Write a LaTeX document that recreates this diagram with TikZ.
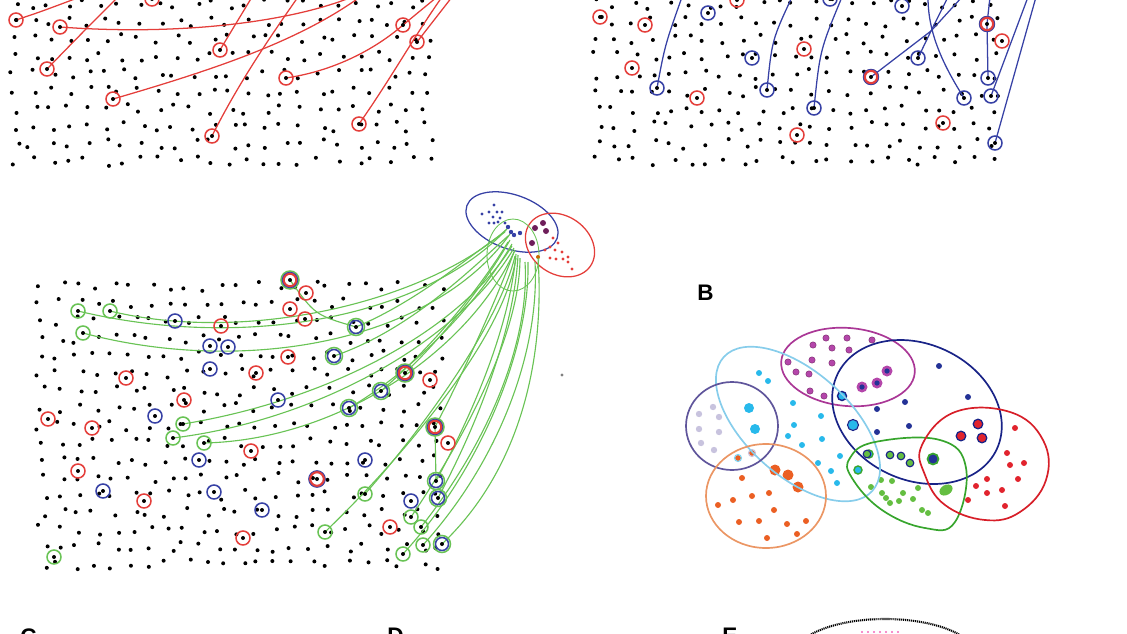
\documentclass[tikz,border=0pt]{standalone}
\usepackage{fontspec}
\setmainfont{Liberation Sans}

% track colours
\definecolor{cellred}{RGB}{228,62,58}
\definecolor{cellblue}{RGB}{55,65,165}
\definecolor{cellgreen}{RGB}{105,195,85}
% group colours (panel B)
\definecolor{grpmagenta}{RGB}{170,55,150}
\definecolor{grpnavy}{RGB}{25,35,135}
\definecolor{grpsky}{RGB}{135,205,235}
\definecolor{grpslate}{RGB}{95,85,155}
\definecolor{grporange}{RGB}{235,150,100}
\definecolor{grpgreen}{RGB}{55,165,45}
\definecolor{grpred}{RGB}{215,30,40}
\definecolor{dotmagenta}{RGB}{180,70,170}
\definecolor{dotnavy}{RGB}{35,50,150}
\definecolor{dotcyan}{RGB}{40,185,235}
\definecolor{dotlav}{RGB}{200,195,222}
\definecolor{dotorange}{RGB}{235,95,35}
\definecolor{dotgreen}{RGB}{100,190,65}
\definecolor{dotred}{RGB}{225,35,45}
\definecolor{dotplum}{RGB}{110,30,90}

\begin{document}
\begin{tikzpicture}[
    x=0.025cm, y=-0.025cm,
    % scatter dots
    dot/.style={fill=black},
    % rings round a marked cell
    redring/.style={draw=cellred, line width=1.1pt},
    bluering/.style={draw=cellblue, line width=1.1pt},
    greenring/.style={draw=cellgreen, line width=1.1pt},
    % tracks
    redtrack/.style={draw=cellred, line width=0.9pt},
    bluetrack/.style={draw=cellblue, line width=0.9pt},
    greentrack/.style={draw=cellgreen, line width=0.8pt},
    % group outlines
    group/.style={line width=1.2pt},
    label/.style={font=\fontsize{16}{16}\selectfont\bfseries, inner sep=0pt}
    ]

    \useasboundingbox (0,0) rectangle (1127,633);
    \clip (0,0) rectangle (1127,633);
    \pgfmathsetseed{11}

    % ---------- top left field ----------
    \foreach \i in {0,...,23} \foreach \j in {0,...,9} {
        \pgfmathsetmacro\px{14+18*\i+6*rand}
        \pgfmathsetmacro\py{4+17.5*\j+5*rand}
        \fill[dot] (\px,\py) circle (2);
    }
    \draw[redtrack] (16,20) .. controls (40,12) .. (80,-3);
    \draw[redtrack] (60,27) .. controls (180,36) and (290,22) .. (352,-3);
    \draw[redtrack] (47,69) .. controls (80,35) .. (118,-3);
    \draw[redtrack] (220,50) .. controls (232,30) .. (252,-3);
    \draw[redtrack] (113,99) .. controls (220,68) and (300,40) .. (360,-3);
    \draw[redtrack] (286,78) .. controls (340,70) and (380,45) .. (403,25) -- (437,-3);
    \draw[redtrack] (212,136) .. controls (240,80) and (275,30) .. (298,-3);
    \draw[redtrack] (359,124) .. controls (390,80) and (415,35) .. (442,-3);
    \draw[redtrack] (417,42) -- (452,-3);
    \foreach \x/\y in {16/20, 60/27, 47/69, 220/50, 113/99, 286/78, 212/136,
                       359/124, 403/25, 417/42, 152/-1} {
        \draw[redring] (\x,\y) circle (7);
        \fill[dot] (\x,\y) circle (2);
    }

    % ---------- top right field ----------
    \foreach \i in {0,...,22} \foreach \j in {0,...,9} {
        \pgfmathsetmacro\px{598+18*\i+6*rand}
        \pgfmathsetmacro\py{4+17.5*\j+5*rand}
        \fill[dot] (\px,\py) circle (2);
    }
    \draw[bluetrack] (657,88) .. controls (665,45) .. (682,-3);
    \draw[bluetrack] (767,90) .. controls (772,40) .. (792,-3);
    \draw[bluetrack] (814,108) .. controls (820,50) .. (842,-3);
    \draw[bluetrack] (871,77) -- (931,31) -- (962,-3);
    \draw[bluetrack] (918,58) -- (931,31) -- (948,-3);
    \draw[bluetrack] (964,98) .. controls (940,60) and (928,30) .. (928,-3);
    \draw[bluetrack] (988,78) -- (987,24) -- (990,-3);
    \draw[bluetrack] (991,96) -- (1028,-3);
    \draw[bluetrack] (995,143) -- (1036,-3);
    \foreach \x/\y in {600/17, 645/25, 632/68, 697/98, 737/0, 804/49, 797/135,
                       943/123, 1002/41} {
        \draw[redring] (\x,\y) circle (7);
        \fill[dot] (\x,\y) circle (2);
    }
    \foreach \x/\y in {708/13, 657/88, 752/58, 767/90, 814/108, 830/-1, 902/6,
                       918/58, 964/98, 988/78, 991/96, 995/143} {
        \draw[bluering] (\x,\y) circle (7);
        \fill[dot] (\x,\y) circle (2);
    }
    \foreach \x/\y in {871/77, 987/24} {
        \draw[draw=cellred, line width=2pt] (\x,\y) circle (6.5);
        \draw[bluering, line width=0.6pt] (\x,\y) circle (7.8);
        \fill[dot] (\x,\y) circle (2);
    }

    % ---------- middle field ----------
    \foreach \i in {0,...,22} \foreach \j in {0,...,16} {
        \pgfmathsetmacro\px{42+18*\i+6*rand}
        \pgfmathsetmacro\py{286+17.4*\j+5*rand}
        \fill[dot] (\px,\py) circle (2);
    }
    \fill[gray] (562,375) circle (1.6);

    % target clusters
    \draw[bluering, line width=0.9pt, rotate around={-20:(512,222)}] (512,222) ellipse (48 and 27);
    \draw[redring, line width=0.9pt, rotate around={-35:(560,245)}] (560,245) ellipse (37 and 29);
    \draw[greentrack, line width=0.6pt] (513,255) ellipse (26 and 36);
    \foreach \x/\y in {494/205, 489/212, 482/214, 497/212, 502/212, 493/217, 500/218,
                       489/223, 494/223, 498/222, 505/223} {
        \fill[cellblue] (\x,\y) circle (1.7);
    }
    \foreach \x/\y in {543/223, 546/231, 535/228, 532/243} {
        \fill[dotplum] (\x,\y) circle (3);
    }
    \foreach \x/\y in {553/238, 558/243, 550/247, 555/250, 562/252, 545/250, 550/258,
                       556/259, 563/259, 568/257, 568/262, 572/269} {
        \fill[cellred] (\x,\y) circle (1.7);
    }
    \fill[orange!80!black] (538,257) circle (2);

    % green tracks into the clusters
    \draw[greentrack] (78,311) .. controls (240,350) and (420,320) .. (506,230);
    \draw[greentrack] (110,311) .. controls (250,345) and (430,300) .. (508,228);
    \draw[greentrack] (83,333) .. controls (240,375) and (430,345) .. (510,234);
    \draw[greentrack] (290,280) .. controls (315,315) .. (356,327);
    \draw[greentrack] (356,327) .. controls (420,300) and (470,255) .. (505,232);
    \draw[greentrack] (334,356) .. controls (410,330) and (470,270) .. (508,236);
    \draw[greentrack] (405,373) .. controls (450,330) and (490,275) .. (510,240);
    \draw[greentrack] (381,391) .. controls (440,340) and (485,280) .. (508,242);
    \draw[greentrack] (349,408) .. controls (430,360) and (485,290) .. (512,244);
    \draw[greentrack] (183,424) .. controls (330,400) and (460,330) .. (512,246);
    \draw[greentrack] (173,438) .. controls (320,420) and (460,340) .. (514,248);
    \draw[greentrack] (204,443) .. controls (340,440) and (470,350) .. (515,250);
    \draw[greentrack] (435,427) .. controls (470,360) and (500,290) .. (514,252);
    \draw[greentrack] (436,481) -- (435,427);
    \draw[greentrack] (436,481) .. controls (480,400) and (510,320) .. (516,254);
    \draw[greentrack] (438,498) .. controls (485,410) and (515,320) .. (518,255);
    \draw[greentrack] (365,494) .. controls (430,420) and (500,320) .. (515,256);
    \draw[greentrack] (325,532) .. controls (420,440) and (505,330) .. (516,258);
    \draw[greentrack] (411,517) .. controls (470,430) and (520,330) .. (520,258);
    \draw[greentrack] (421,527) .. controls (490,440) and (530,340) .. (525,262);
    \draw[greentrack] (423,545) .. controls (500,460) and (540,350) .. (535,262);
    \draw[greentrack] (442,544) .. controls (520,470) and (545,360) .. (538,258);
    \draw[greentrack] (403,554) .. controls (480,470) and (530,350) .. (528,262);
    \foreach \x/\y in {508/227, 511/232, 514/235, 520/233} {
        \fill[cellblue] (\x,\y) circle (2.2);
    }

    % marked cells
    \foreach \x/\y in {78/311, 110/311, 83/333, 183/424, 173/438, 204/443, 365/494,
                       411/517, 421/527, 325/532, 423/545, 403/554, 54/557} {
        \draw[greenring] (\x,\y) circle (7);
        \fill[dot] (\x,\y) circle (2);
    }
    \foreach \x/\y in {306/293, 290/309, 305/319, 221/326, 288/357, 256/373, 126/378,
                       430/380, 184/400, 48/419, 92/428, 448/443, 251/451, 78/471,
                       144/501, 390/527, 243/538} {
        \draw[redring] (\x,\y) circle (7);
        \fill[dot] (\x,\y) circle (2);
    }
    \foreach \x/\y in {175/321, 210/346, 228/347, 210/369, 278/400, 155/416, 199/460,
                       365/460, 103/491, 214/492, 262/510, 411/501} {
        \draw[bluering] (\x,\y) circle (7);
        \fill[dot] (\x,\y) circle (2);
    }
    \foreach \x/\y in {356/327, 334/356, 381/391, 349/408, 436/481, 438/498, 442/544} {
        \draw[greenring] (\x,\y) circle (8.5);
        \draw[bluering] (\x,\y) circle (6.5);
        \fill[dot] (\x,\y) circle (2);
    }
    \foreach \x/\y in {290/280, 405/373, 435/427} {
        \draw[greenring] (\x,\y) circle (9);
        \draw[draw=cellred, line width=1.8pt] (\x,\y) circle (6.5);
        \draw[bluering, line width=0.6pt] (\x,\y) circle (7.8);
        \fill[dot] (\x,\y) circle (2);
    }
    \draw[draw=cellred, line width=1.8pt] (317,479) circle (7);
    \draw[bluering, line width=0.6pt] (317,479) circle (8.4);
    \fill[dot] (317,479) circle (2);

    % ---------- panel B ----------
    \node[label, anchor=north west] (labB) at (697,285) {B};

    \foreach \x/\y in {813/345, 826/338, 847/338, 872/340, 832/348, 849/350, 812/360,
                       832/363, 788/362, 796/372, 809/374, 810/391, 824/396} {
        \fill[dotmagenta, draw=grpmagenta!70!black, line width=0.3pt] (\x,\y) circle (3.2);
    }
    \foreach \x/\y in {862/387, 877/383, 887/371} {
        \fill[dotmagenta] (\x,\y) circle (5.5);
        \fill[dotnavy] (\x,\y) circle (2.6);
    }
    \fill[dotcyan] (842,396) circle (4.5);
    \draw[grpnavy, line width=1pt] (842,396) circle (4.5);
    \foreach \x/\y in {939/366, 968/397, 905/402, 877/409, 909/426, 877/432} {
        \fill[dotnavy] (\x,\y) circle (3);
    }
    \foreach \x/\y in {978/424, 961/436, 982/438} {
        \fill[dotred] (\x,\y) circle (4.8);
        \draw[grpnavy, line width=0.9pt] (\x,\y) circle (4.8);
    }
    \foreach \x/\y in {759/373, 768/381, 793/403, 821/416, 794/425, 788/436, 822/439,
                       802/445, 840/456, 818/463, 831/471, 837/483} {
        \fill[dotcyan] (\x,\y) circle (3);
    }
    \foreach \x/\y in {749/408, 755/429, 853/425} {
        \fill[dotcyan] (\x,\y) circle (5);
    }
    \draw[grpnavy, line width=0.8pt] (853,425) circle (5.5);
    \foreach \x/\y in {869/454, 858/470} {
        \fill[dotcyan] (\x,\y) circle (4);
        \draw[grpgreen, line width=1pt] (\x,\y) circle (4);
    }
    \foreach \x/\y in {699/414, 713/407, 719/417, 699/429, 719/432, 701/443, 714/450} {
        \fill[dotlav] (\x,\y) circle (3.2);
    }
    \foreach \x/\y in {742/478, 733/500, 752/496, 769/493, 718/505, 774/510, 739/522,
                       759/521, 787/524, 806/521, 797/534, 767/538} {
        \fill[dotorange] (\x,\y) circle (3);
    }
    \fill[dotorange] (738,458) circle (3);
    \draw[dotcyan!60, line width=0.8pt] (738,458) circle (3.5);
    \fill[dotorange] (752,453) circle (3);
    \draw[dotlav, line width=0.8pt] (752,453) circle (3.5);
    \foreach \x/\y in {775/470, 788/475, 798/487} {
        \fill[dotorange] (\x,\y) circle (5.5);
    }
    \foreach \x/\y in {890/455, 901/456, 910/463, 867/454} {
        \fill[dotgreen] (\x,\y) circle (3.8);
        \draw[grpnavy, line width=0.8pt] (\x,\y) circle (3.8);
    }
    \fill[dotnavy] (933,459) circle (5);
    \draw[grpgreen, line width=1.2pt] (933,459) circle (5.5);
    \foreach \x/\y in {871/487, 881/480, 892/481, 882/493, 886/498, 890/503, 899/501,
                       903/493, 918/488, 913/499, 922/510, 928/513} {
        \fill[dotgreen] (\x,\y) circle (3);
    }
    \fill[dotgreen, rotate around={30:(946,490)}] (946,490) ellipse (7 and 5);
    \foreach \x/\y in {1015/428, 1007/453, 1010/465, 1024/463, 1018/479, 987/479,
                       976/486, 987/493, 1002/490, 968/500, 1005/506} {
        \fill[dotred] (\x,\y) circle (3);
    }

    % group outlines
    \draw[group, grpmagenta, rotate around={-5:(848,367)}] (848,367) ellipse (67 and 39);
    \draw[group, grpnavy, rotate around={-25:(917,412)}] (917,412) ellipse (88 and 68);
    \draw[group, grpsky, rotate around={-42:(798,424)}] (798,424) ellipse (100 and 52);
    \draw[group, grpslate] (732,426) ellipse (46 and 44);
    \draw[group, grporange] (766,496) ellipse (60 and 52);
    \draw[group, grpgreen] plot[smooth cycle, tension=0.7] coordinates
        {(850,458) (875,442) (940,440) (966,468) (955,522) (925,528) (882,510) (852,478)};
    \draw[group, grpred] plot[smooth cycle, tension=0.7] coordinates
        {(922,445) (955,412) (1010,412) (1043,440) (1046,480) (1020,512) (985,520) (945,505) (925,475)};

    % ---------- next row, cut off ----------
    \node[label, anchor=north west] (labC) at (20,628) {C};
    \node[label, anchor=north west] (labD) at (387,628) {D};
    \node[label, anchor=north west] (labE) at (722,628) {E};
    \draw[line width=1.5pt, dash pattern=on 0.8pt off 0.6pt] (885,655) ellipse (90 and 36);
    \foreach \x in {862,868,874,880,886,892,898} {
        \fill[magenta!60] (\x,632) circle (1.2);
    }

\end{tikzpicture}
\end{document}
